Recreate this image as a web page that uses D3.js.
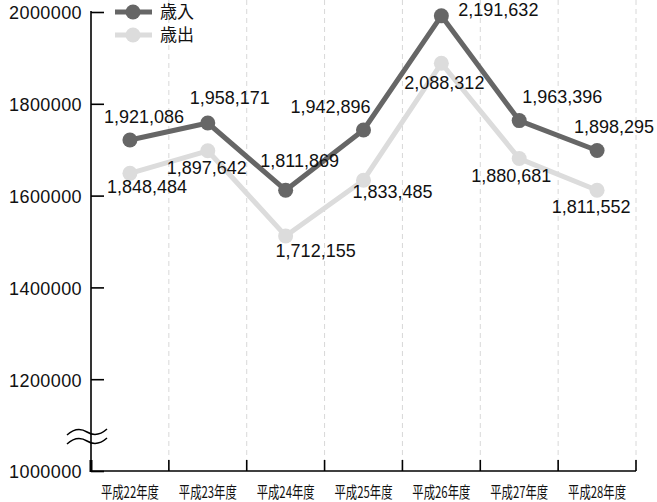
<!DOCTYPE html>
<html>
<head>
<meta charset="utf-8">
<script src="https://cdn.jsdelivr.net/npm/d3@7"></script>
<style>
  body { margin: 0; background: #fff; }
  svg { display: block; }
</style>
</head>
<body>
<svg id="chart" width="657" height="502"></svg>
<script>
const categories = ['平成22年度', '平成23年度', '平成24年度', '平成25年度', '平成26年度', '平成27年度', '平成28年度'];
const revenue = [1921086, 1958171, 1811869, 1942896, 2191632, 1963396, 1898295];     // 歳入
const expenditure = [1848484, 1897642, 1712155, 1833485, 2088312, 1880681, 1811552]; // 歳出
const yTicks = [1000000, 1200000, 1400000, 1600000, 1800000, 2000000];
const seriesNames = ['歳入', '歳出'];

// the axis is broken between 1000000 and 1200000, so values are drawn shifted by this amount
const breakOffset = 200000;

// label offsets from each point (dx, dy)
const revenueLabelPos = [[14, -17], [22, -19], [14, -23], [-33, -17], [57, 0], [43, -18], [17, -17]];
const expenditureLabelPos = [[17, 20], [-1, 23], [30, 21], [29, 18], [3, 26], [-8, 23], [-6, 23]];

const margin = { left: 91, right: 21, top: 12, bottom: 31 };
const width = 657;
const height = 502;

const svg = d3.select('#chart');

const x = d3.scaleBand()
    .domain(categories)
    .range([margin.left, width - margin.right]);

const y = d3.scaleLinear()
    .domain([1000000, 2000000])
    .range([height - margin.bottom, margin.top]);

const yOf = (v) => y(v - breakOffset);
const xOf = (i) => x(categories[i]) + x.bandwidth() / 2;

// dashed separators between years
const bounds = categories.slice(1).map((c) => x(c)).concat([width - margin.right]);
svg.append('g')
    .selectAll('line')
    .data(bounds)
    .enter()
    .append('line')
    .attr('x1', (d) => d)
    .attr('x2', (d) => d)
    .attr('y1', 0)
    .attr('y2', height - margin.bottom)
    .attr('stroke', '#d8d8d8')
    .attr('stroke-width', 1)
    .attr('stroke-dasharray', '5,4');

// y axis
const yAxis = d3.axisRight(y)
    .tickValues(yTicks)
    .tickSize(13)
    .tickFormat((d) => String(d));

const gy = svg.append('g')
    .attr('transform', `translate(${margin.left},0)`)
    .call(yAxis);
gy.select('.domain').remove();
gy.selectAll('.tick line').attr('stroke', '#000').attr('stroke-width', 1.6);
gy.selectAll('.tick text')
    .attr('x', -9)
    .attr('dy', '0.38em')
    .attr('text-anchor', 'end')
    .style('font-family', '"Liberation Sans", Arial, sans-serif')
    .style('font-size', '18px')
    .style('letter-spacing', '0.4px')
    .attr('fill', '#111');

svg.append('line')
    .attr('x1', margin.left).attr('x2', margin.left)
    .attr('y1', margin.top - 1).attr('y2', height - margin.bottom)
    .attr('stroke', '#000').attr('stroke-width', 1.6);

// x axis
svg.append('line')
    .attr('x1', margin.left).attr('x2', width - margin.right)
    .attr('y1', height - margin.bottom).attr('y2', height - margin.bottom)
    .attr('stroke', '#000').attr('stroke-width', 1.6);

svg.append('g')
    .selectAll('line')
    .data(bounds)
    .enter()
    .append('line')
    .attr('x1', (d) => d)
    .attr('x2', (d) => d)
    .attr('y1', height - margin.bottom)
    .attr('y2', height - margin.bottom - 11)
    .attr('stroke', '#000')
    .attr('stroke-width', 1.6);

svg.append('line')
    .attr('x1', margin.left).attr('x2', margin.left)
    .attr('y1', height - margin.bottom + 1).attr('y2', height - margin.bottom - 11)
    .attr('stroke', '#000').attr('stroke-width', 3);

svg.append('g')
    .selectAll('text')
    .data(categories)
    .enter()
    .append('text')
    .attr('x', (d) => x(d) + x.bandwidth() / 2)
    .attr('y', 498)
    .attr('text-anchor', 'middle')
    .attr('textLength', 58)
    .attr('lengthAdjust', 'spacingAndGlyphs')
    .style('font-family', '"Noto Sans CJK JP", sans-serif')
    .style('font-size', '16px')
    .attr('fill', '#111')
    .text((d) => d);

// axis break mark
const breakY = [432, 441];
svg.append('g')
    .selectAll('path')
    .data(breakY)
    .enter()
    .append('path')
    .attr('d', (d) => `M67,${d + 3} Q77,${d - 6} 87,${d} T107,${d - 3}`)
    .attr('fill', 'none')
    .attr('stroke', '#000')
    .attr('stroke-width', 1.5);

// series
const line = d3.line()
    .x((d, i) => xOf(i))
    .y((d) => yOf(d));

const series = [
    { name: seriesNames[1], values: expenditure, color: '#dcdcdc', labels: expenditureLabelPos },
    { name: seriesNames[0], values: revenue, color: '#666666', labels: revenueLabelPos },
];

series.forEach((s) => {
    svg.append('path')
        .datum(s.values)
        .attr('d', line)
        .attr('fill', 'none')
        .attr('stroke', s.color)
        .attr('stroke-width', 5)
        .attr('stroke-linejoin', 'round');

    svg.append('g')
        .selectAll('circle')
        .data(s.values)
        .enter()
        .append('circle')
        .attr('cx', (d, i) => xOf(i))
        .attr('cy', (d) => yOf(d))
        .attr('r', 7.5)
        .attr('fill', s.color);
});

const fmt = d3.format(',');
series.forEach((s) => {
    svg.append('g')
        .selectAll('text')
        .data(s.values)
        .enter()
        .append('text')
        .attr('x', (d, i) => xOf(i) + s.labels[i][0])
        .attr('y', (d, i) => yOf(d) + s.labels[i][1])
        .attr('text-anchor', 'middle')
        .style('font-family', '"Liberation Sans", Arial, sans-serif')
        .style('font-size', '18px')
        .attr('fill', '#111')
        .text((d) => fmt(d));
});

// legend
const legend = svg.append('g')
    .selectAll('g')
    .data([series[1], series[0]])
    .enter()
    .append('g')
    .attr('transform', (d, i) => `translate(115,${12 + i * 23})`);

legend.append('line')
    .attr('x1', 0).attr('x2', 37)
    .attr('stroke', (d) => d.color)
    .attr('stroke-width', 5);

legend.append('circle')
    .attr('cx', 18)
    .attr('r', 7.5)
    .attr('fill', (d) => d.color);

legend.append('text')
    .attr('x', 45)
    .attr('dy', '0.36em')
    .style('font-family', '"Noto Sans CJK JP", sans-serif')
    .style('font-size', '17px')
    .attr('fill', '#111')
    .text((d) => d.name);
</script>
</body>
</html>
